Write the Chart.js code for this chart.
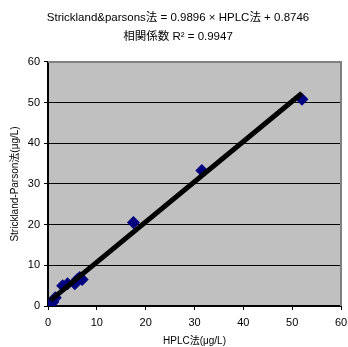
<!DOCTYPE html>
<html>
<head>
<meta charset="utf-8">
<script src="https://cdn.jsdelivr.net/npm/chart.js@4/dist/chart.umd.min.js"></script>
<style>
html,body{margin:0;padding:0;background:#fff;}
#wrap{width:348px;height:347px;}
</style>
</head>
<body>
<div id="wrap"><canvas id="c" width="348" height="347"></canvas></div>
<script>
const hplcValues = [0.5, 1.0, 1.5, 3.0, 4.0, 5.5, 6.0, 6.5, 7.0, 17.5, 31.5, 52.0];
const stricklandValues = [0.3, 1.0, 2.0, 5.0, 5.5, 5.5, 6.5, 7.0, 6.5, 20.5, 33.3, 50.8];
const trendX = [0.5, 52.0];
const trendY = [1.37, 52.3];
const axisTicks = [0, 10, 20, 30, 40, 50, 60];
const titleLines = ['Strickland&parsons法 = 0.9896 × HPLC法 + 0.8746', '相関係数 R² = 0.9947'];
const xTitle = 'HPLC法(μg/L)';
const yTitle = 'Strickland-Parson法(μg/L)';

const FONT = "'Liberation Sans', 'Noto Sans CJK JP', sans-serif";

const plotBg = {
  id: 'plotBg',
  beforeDraw(chart) {
    const {ctx, chartArea: a} = chart;
    ctx.save();
    ctx.fillStyle = '#C0C0C0';
    ctx.fillRect(a.left, a.top, a.right - a.left, a.bottom - a.top);
    ctx.restore();
  },
  afterDatasetsDraw(chart) {
    const {ctx, chartArea: a} = chart;
    ctx.save();
    ctx.strokeStyle = '#808080';
    ctx.lineWidth = 2;
    ctx.beginPath();
    ctx.moveTo(a.left, a.top);
    ctx.lineTo(a.right, a.top);
    ctx.lineTo(a.right, a.bottom);
    ctx.stroke();
    ctx.restore();
  }
};

new Chart(document.getElementById('c'), {
  type: 'scatter',
  data: {
    datasets: [
      {
        type: 'line',
        data: trendX.map((x, i) => ({x, y: trendY[i]})),
        borderColor: '#000000',
        borderWidth: 5,
        pointRadius: 0,
        fill: false,
        order: 0
      },
      {
        data: hplcValues.map((x, i) => ({x, y: stricklandValues[i]})),
        backgroundColor: '#000080',
        borderColor: '#000080',
        pointStyle: 'rectRot',
        pointRadius: 6.5,
        borderWidth: 0,
        order: 1
      }
    ]
  },
  options: {
    responsive: false,
    animation: false,
    layout: {padding: {left: 9, right: 1, top: 0, bottom: 0}},
    plugins: {
      legend: {display: false},
      tooltip: {enabled: false},
      title: {
        display: true,
        text: titleLines,
        color: '#000',
        font: {family: FONT, size: 11.5, weight: 'normal', lineHeight: 1.65},
        padding: {top: 8, bottom: 16}
      }
    },
    scales: {
      x: {
        type: 'linear',
        min: 0, max: 60,
        afterBuildTicks(s) { s.ticks = axisTicks.map(v => ({value: v})); },
        afterFit(s) { s.height = 41; s.paddingRight = 7; s.paddingLeft = 0; },
        grid: {drawOnChartArea: false, drawTicks: true, tickLength: 4, color: '#000', tickColor: '#000'},
        border: {color: '#000', width: 2},
        ticks: {color: '#000', font: {family: FONT, size: 11}, padding: 6, maxRotation: 0},
        title: {display: true, text: xTitle, color: '#000', font: {family: FONT, size: 10}, padding: {top: 1, bottom: 0}}
      },
      y: {
        type: 'linear',
        min: 0, max: 60,
        afterBuildTicks(s) { s.ticks = axisTicks.map(v => ({value: v})); },
        afterFit(s) { s.width = 39; },
        grid: {drawOnChartArea: true, drawTicks: true, tickLength: 4, color: '#000', tickColor: '#000', lineWidth: 1},
        border: {color: '#000', width: 2},
        ticks: {color: '#000', font: {family: FONT, size: 11}, padding: 4},
        title: {display: true, text: yTitle, color: '#000', font: {family: FONT, size: 10}, padding: {top: 0, bottom: 4}}
      }
    }
  },
  plugins: [plotBg]
});
</script>
</body>
</html>
